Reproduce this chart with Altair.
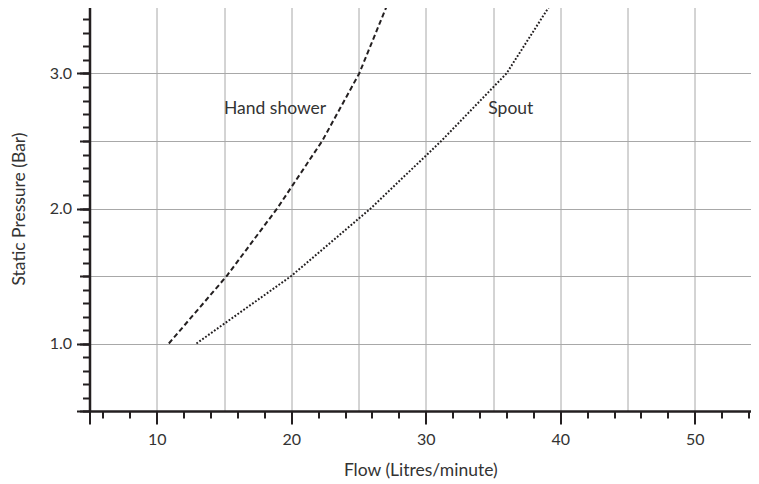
import altair as alt
import pandas as pd

# ---- data ----
hand_flow = [10.9, 15.2, 18.95, 22.3, 25.05, 27.1]
hand_pressure = [1.0, 1.5, 2.0, 2.5, 3.0, 3.5]
spout_flow = [12.95, 20.0, 25.9, 31.15, 36.0, 39.2]
spout_pressure = [1.0, 1.5, 2.0, 2.5, 3.0, 3.5]
label_text = ["Hand shower", "Spout"]
label_flow = [15.0, 34.65]
label_pressure = [2.74, 2.74]

# ---- tick / grid values ----
x_major = [5, 10, 20, 30, 40, 50]
x_minor = [6, 8, 12, 14, 16, 18, 22, 24, 26, 28, 32, 34, 36, 38, 42, 44, 46, 48, 52, 54]
x_grid = [10, 15, 20, 25, 30, 35, 40, 45, 50]
y_major = [0.5, 1.0, 2.0, 3.0]
y_half = [0.5, 1.0, 1.5, 2.0, 2.5, 3.0, 3.5]
y_minor = [0.5, 0.6, 0.7, 0.8, 0.9, 1.0, 1.1, 1.2, 1.3, 1.4, 1.5, 1.6, 1.7, 1.8, 1.9,
           2.0, 2.1, 2.2, 2.3, 2.4, 2.5, 2.6, 2.7, 2.8, 2.9, 3.0, 3.1, 3.2, 3.3, 3.4, 3.5]

hand_df = pd.DataFrame({"flow": hand_flow, "pressure": hand_pressure})
spout_df = pd.DataFrame({"flow": spout_flow, "pressure": spout_pressure})
label_df = pd.DataFrame({"flow": label_flow, "pressure": label_pressure, "label": label_text})

INK = "#231f20"
TXT = "#333333"
GRID = "#a8a8a8"
FONT = "Lato"

x_scale = alt.Scale(domain=[5, 54.18], nice=False, zero=False)
y_scale = alt.Scale(domain=[0.5, 3.5], nice=False, zero=False)

blank = dict(domain=False, labels=False, title="", grid=False)

hand = alt.Chart(hand_df).mark_line(color=INK, strokeWidth=2, strokeDash=[5, 3]).encode(
    x=alt.X("flow:Q", scale=x_scale, axis=alt.Axis(
        orient="bottom", values=x_major, format="d",
        labelExpr="datum.value == 5 ? '' : datum.label",
        tickSize=13, tickWidth=2, tickColor=INK,
        domain=True, domainColor=INK, domainWidth=2.5, grid=False,
        labelFont=FONT, labelFontSize=16, labelColor=TXT, labelPadding=7,
        title="Flow (Litres/minute)", titleFont=FONT, titleFontSize=17.5,
        titleFontWeight="normal", titleColor=TXT, titlePadding=14)),
    y=alt.Y("pressure:Q", scale=y_scale, axis=alt.Axis(
        orient="left", values=y_major, format=".1f",
        labelExpr="datum.value == 0.5 ? '' : datum.label",
        tickSize=13, tickWidth=2, tickColor=INK,
        domain=True, domainColor=INK, domainWidth=2.5, grid=False,
        labelFont=FONT, labelFontSize=16, labelColor=TXT, labelPadding=5,
        title="Static Pressure (Bar)", titleFont=FONT, titleFontSize=17.5,
        titleFontWeight="normal", titleColor=TXT, titlePadding=21)),
)

spout = alt.Chart(spout_df).mark_line(color=INK, strokeWidth=2, strokeDash=[1.8, 1.8]).encode(
    x=alt.X("flow:Q", scale=x_scale, axis=alt.Axis(
        orient="bottom", values=x_minor, tickSize=7, tickWidth=2, tickColor=INK, **blank)),
    y=alt.Y("pressure:Q", scale=y_scale, axis=alt.Axis(
        orient="left", values=y_minor, tickSize=7, tickWidth=2, tickColor=INK, **blank)),
)

labels = alt.Chart(label_df).mark_text(
    align="left", baseline="middle", font=FONT, fontSize=17.5, color=TXT
).encode(
    x=alt.X("flow:Q", scale=x_scale, axis=alt.Axis(
        orient="bottom", values=x_grid, ticks=False, domain=False, labels=False,
        title="", grid=True, gridColor=GRID, gridWidth=1)),
    y=alt.Y("pressure:Q", scale=y_scale, axis=alt.Axis(
        orient="left", values=y_half, tickSize=10, tickWidth=2, tickColor=INK,
        domain=False, labels=False, title="", grid=True, gridColor=GRID, gridWidth=1)),
    text="label:N",
)

chart = alt.layer(labels, hand, spout).resolve_axis(
    x="independent", y="independent"
).properties(
    width=661.5, height=405,
    autosize=alt.AutoSizeParams(type="none"),
    padding={"left": 81.5, "top": -2, "right": 0, "bottom": 72},
).configure_view(stroke=None)

chart.save("out.html", embed_options={"renderer": "svg", "actions": False})
